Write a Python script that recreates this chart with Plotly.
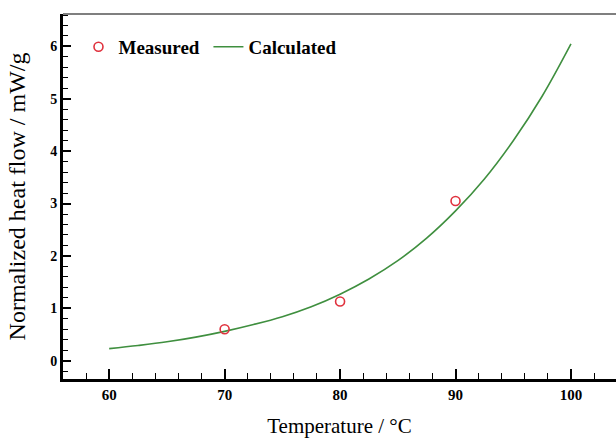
import plotly.graph_objects as go

# Data
measured_temp = [70, 80, 90]
measured_flow = [0.60, 1.13, 3.05]

calc_temp = [60, 62.5, 65, 67.5, 70, 72.5, 75, 77.5, 80, 82.5, 85, 87.5, 90, 92.5, 95, 97.5, 100]
calc_flow = [0.23, 0.29, 0.36, 0.45, 0.56, 0.69, 0.84, 1.03, 1.27, 1.56, 1.91, 2.34, 2.86, 3.47, 4.20, 5.05, 6.05]

x_ticks = [60, 70, 80, 90, 100]
y_ticks = [0, 1, 2, 3, 4, 5, 6]

SERIF = "Liberation Serif, Times New Roman, serif"

fig = go.Figure()
fig.add_trace(go.Scatter(
    x=calc_temp, y=calc_flow, mode="lines", name="Calculated",
    line=dict(color="#3f8f3f", width=1.6, shape="spline"),
    legend="legend2",
))
fig.add_trace(go.Scatter(
    x=measured_temp, y=measured_flow, mode="markers", name="Measured",
    marker=dict(symbol="circle-open", size=9, color="#e0323e", line=dict(width=1.6, color="#e0323e")),
    legend="legend",
))

axis_common = dict(
    showgrid=False, zeroline=False, showline=True, linecolor="black", linewidth=3,
    ticks="inside", tickcolor="black", tickwidth=1.6, automargin=False,
)

fig.update_xaxes(
    range=[56.0, 103.9], tickvals=x_ticks, ticklen=10,
    minor=dict(ticks="inside", dtick=2, tick0=60, ticklen=6, tickwidth=1.4, tickcolor="black"),
    tickfont=dict(family=SERIF, size=15, color="black", weight="bold"),
    title=dict(text="Temperature / °C", font=dict(family=SERIF, size=21, color="black"), standoff=17),
    ticklabelstandoff=0,
    **axis_common,
)
fig.update_yaxes(
    range=[-0.35, 6.62], tickvals=y_ticks, ticklen=8,
    minor=dict(ticks="inside", dtick=0.2, tick0=0, ticklen=5, tickwidth=1.2, tickcolor="black"),
    tickfont=dict(family=SERIF, size=14, color="black", weight="bold"),
    title=dict(text="Normalized heat flow / mW/g", font=dict(family=SERIF, size=24, color="black"), standoff=18),
    ticklabelstandoff=0,
    **axis_common,
)

fig.add_shape(type="line", xref="paper", yref="paper", x0=0, x1=1, y0=1, y1=1,
              line=dict(color="#555555", width=1.5))

legend_font = dict(family=SERIF, size=19, color="black", weight="bold")
fig.update_layout(
    width=616, height=438,
    margin=dict(l=63, r=0, t=14, b=59),
    paper_bgcolor="white", plot_bgcolor="white",
    showlegend=True,
    legend=dict(x=0.028, y=0.91, xanchor="left", yanchor="middle", bgcolor="rgba(0,0,0,0)",
                font=legend_font, orientation="h"),
    legend2=dict(x=0.263, y=0.91, xanchor="left", yanchor="middle", bgcolor="rgba(0,0,0,0)",
                 font=legend_font, orientation="h"),
)

fig.write_html("out.html", config={"displayModeBar": False},
               post_script="document.body.style.margin='0px';")
